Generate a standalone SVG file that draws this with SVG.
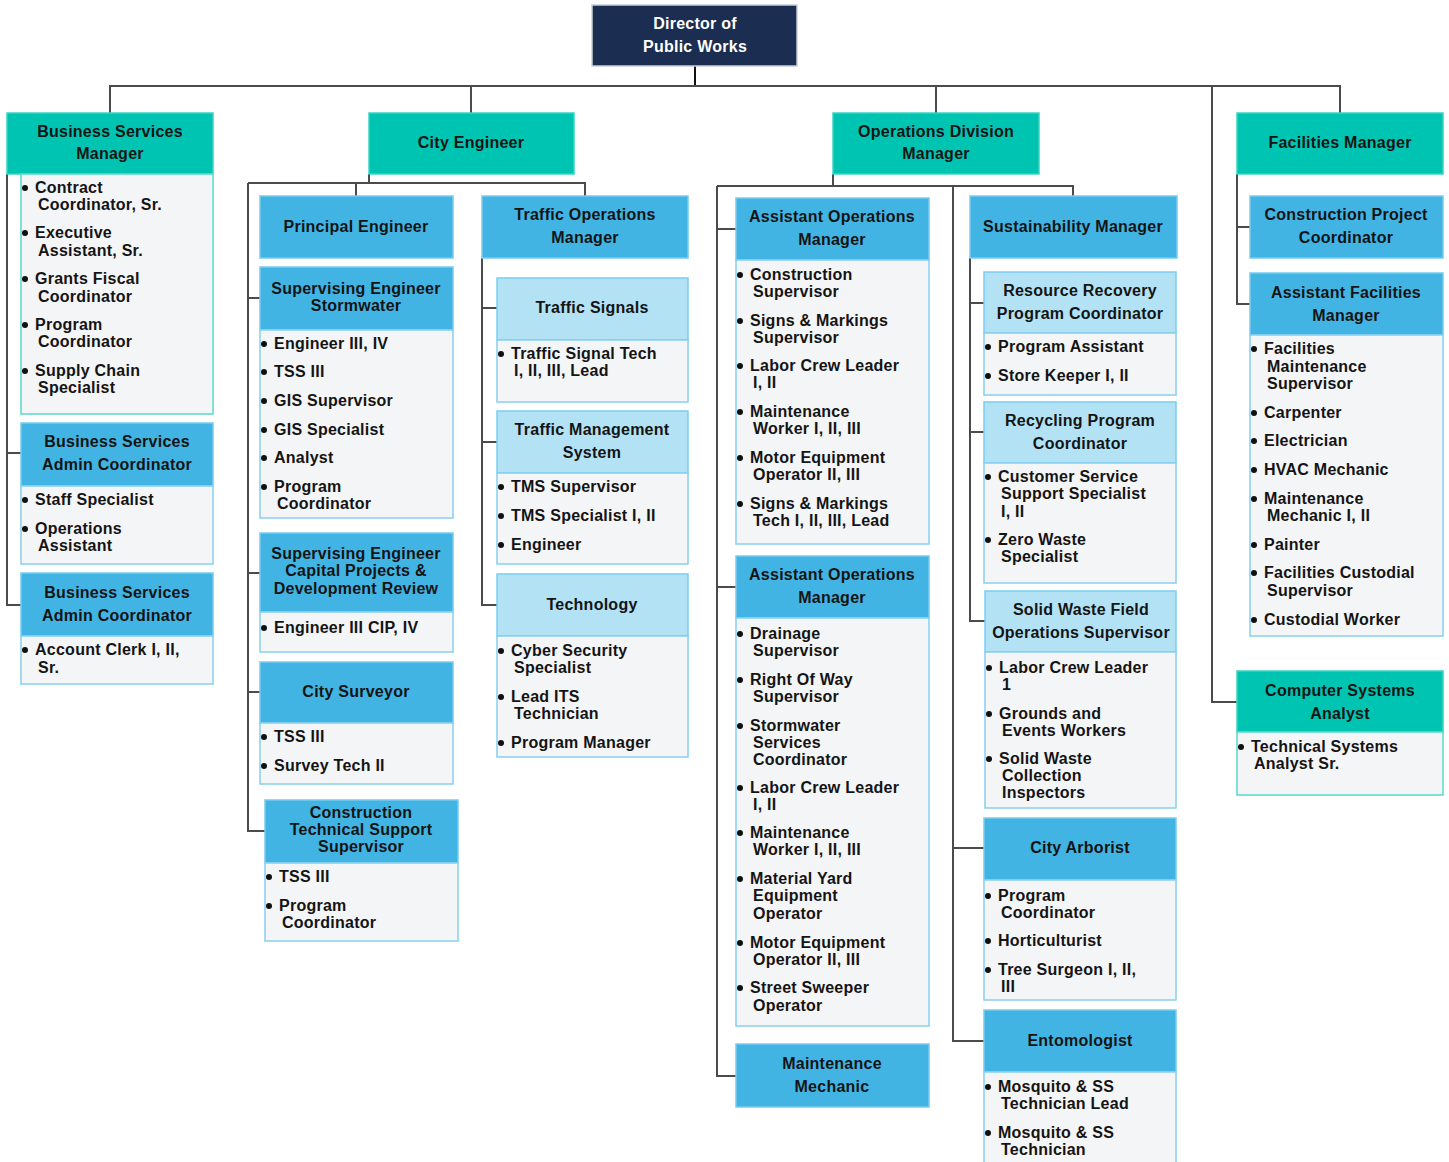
<svg xmlns="http://www.w3.org/2000/svg" width="1449" height="1162" viewBox="0 0 1449 1162">
<style>
text{font-family:"Liberation Sans",Arial,sans-serif;font-weight:bold;font-size:16px;letter-spacing:0.25px;fill:#141414}
.c{text-anchor:middle}
.w{fill:#ffffff}
.dir{fill:#1b2d50;stroke:#c9ced6;stroke-width:1.5}
.teal{fill:#00c4b2;stroke:#3bd2c2;stroke-width:1.5}
.blue{fill:#42b4e4;stroke:#78cbef;stroke-width:1.5}
.lblue{fill:#b3e2f4;stroke:#7ccdf0;stroke-width:1.5}
.list{fill:#f4f5f7;stroke:#86d0f0;stroke-width:1.5}
.listt{fill:#f4f5f7;stroke:#5ad8c8;stroke-width:1.5}
.b{fill:#111}
#connectors path{fill:none;stroke:#4b4b4b;stroke-width:2}
</style>
<rect width="1449" height="1162" fill="#ffffff"/>
<g id="connectors">
<path d="M695,66 V86" style="stroke:#111"/>
<path d="M110,113 V86 H1340 V113"/>
<path d="M471,86 V113 M936,86 V113"/>
<path d="M1212,86 V702 H1237"/>
<path d="M7,174 V605 H21 M7,453 H21"/>
<path d="M369,174 V183 M248,183 H585 V196 M356,183 V196 M248,183 V831 H265 M248,298 H260 M248,573 H260 M248,692 H260"/>
<path d="M482,258 V605 H497 M482,308 H497 M482,442 H497"/>
<path d="M833,174 V186 M717,186 H1073 V196 M717,186 V1076 H736 M717,229 H736 M717,587 H736 M953,186 V1041 H984 M953,848 H984"/>
<path d="M970,258 V621 H985 M970,303 H984 M970,432 H984"/>
<path d="M1237,174 V304 H1250 M1237,227 H1250"/>
</g>

<g id="director">
<rect class="dir" x="592" y="5" width="205" height="61"/>
<text class="c w" x="695" y="29">Director of</text>
<text class="c w" x="695" y="52">Public Works</text>
</g>

<g id="business-services-manager">
<rect class="teal" x="7" y="113" width="206" height="61"/>
<text class="c" x="110" y="137">Business Services</text>
<text class="c" x="110" y="159">Manager</text>
<rect class="listt" x="21" y="174" width="192" height="240"/>
<circle class="b" cx="25" cy="188" r="3"/><text x="35" y="193">Contract</text><text x="38" y="210">Coordinator, Sr.</text>
<circle class="b" cx="25" cy="233" r="3"/><text x="35" y="238">Executive</text><text x="38" y="256">Assistant, Sr.</text>
<circle class="b" cx="25" cy="279" r="3"/><text x="35" y="284">Grants Fiscal</text><text x="38" y="302">Coordinator</text>
<circle class="b" cx="25" cy="325" r="3"/><text x="35" y="330">Program</text><text x="38" y="347">Coordinator</text>
<circle class="b" cx="25" cy="371" r="3"/><text x="35" y="376">Supply Chain</text><text x="38" y="393">Specialist</text>
</g>

<g id="bs-admin-coordinator-1">
<rect class="blue" x="21" y="423" width="192" height="63"/>
<text class="c" x="117" y="447">Business Services</text>
<text class="c" x="117" y="470">Admin Coordinator</text>
<rect class="list" x="21" y="486" width="192" height="78"/>
<circle class="b" cx="25" cy="500" r="3"/><text x="35" y="505">Staff Specialist</text>
<circle class="b" cx="25" cy="529" r="3"/><text x="35" y="534">Operations</text><text x="38" y="551">Assistant</text>
</g>

<g id="bs-admin-coordinator-2">
<rect class="blue" x="21" y="573" width="192" height="63"/>
<text class="c" x="117" y="598">Business Services</text>
<text class="c" x="117" y="621">Admin Coordinator</text>
<rect class="list" x="21" y="636" width="192" height="48"/>
<circle class="b" cx="25" cy="650" r="3"/><text x="35" y="655">Account Clerk I, II,</text><text x="38" y="673">Sr.</text>
</g>

<g id="city-engineer">
<rect class="teal" x="369" y="113" width="205" height="61"/>
<text class="c" x="471" y="148">City Engineer</text>
</g>

<g id="principal-engineer">
<rect class="blue" x="260" y="196" width="193" height="62"/>
<text class="c" x="356" y="232">Principal Engineer</text>
</g>

<g id="se-stormwater">
<rect class="blue" x="260" y="267" width="193" height="63"/>
<text class="c" x="356" y="294">Supervising Engineer</text>
<text class="c" x="356" y="311">Stormwater</text>
<rect class="list" x="260" y="330" width="193" height="188"/>
<circle class="b" cx="264" cy="344" r="3"/><text x="274" y="349">Engineer III, IV</text>
<circle class="b" cx="264" cy="372" r="3"/><text x="274" y="377">TSS III</text>
<circle class="b" cx="264" cy="401" r="3"/><text x="274" y="406">GIS Supervisor</text>
<circle class="b" cx="264" cy="430" r="3"/><text x="274" y="435">GIS Specialist</text>
<circle class="b" cx="264" cy="458" r="3"/><text x="274" y="463">Analyst</text>
<circle class="b" cx="264" cy="487" r="3"/><text x="274" y="492">Program</text><text x="277" y="509">Coordinator</text>
</g>

<g id="se-capital-projects">
<rect class="blue" x="260" y="533" width="193" height="79"/>
<text class="c" x="356" y="559">Supervising Engineer</text>
<text class="c" x="356" y="576">Capital Projects &amp;</text>
<text class="c" x="356" y="594">Development Review</text>
<rect class="list" x="260" y="612" width="193" height="40"/>
<circle class="b" cx="264" cy="628" r="3"/><text x="274" y="633">Engineer III CIP, IV</text>
</g>

<g id="city-surveyor">
<rect class="blue" x="260" y="662" width="193" height="61"/>
<text class="c" x="356" y="697">City Surveyor</text>
<rect class="list" x="260" y="723" width="193" height="61"/>
<circle class="b" cx="264" cy="737" r="3"/><text x="274" y="742">TSS III</text>
<circle class="b" cx="264" cy="766" r="3"/><text x="274" y="771">Survey Tech II</text>
</g>

<g id="construction-tech-support">
<rect class="blue" x="265" y="800" width="193" height="63"/>
<text class="c" x="361" y="818">Construction</text>
<text class="c" x="361" y="835">Technical Support</text>
<text class="c" x="361" y="852">Supervisor</text>
<rect class="list" x="265" y="863" width="193" height="78"/>
<circle class="b" cx="269" cy="877" r="3"/><text x="279" y="882">TSS III</text>
<circle class="b" cx="269" cy="906" r="3"/><text x="279" y="911">Program</text><text x="282" y="928">Coordinator</text>
</g>

<g id="traffic-operations-manager">
<rect class="blue" x="482" y="196" width="206" height="62"/>
<text class="c" x="585" y="220">Traffic Operations</text>
<text class="c" x="585" y="243">Manager</text>
</g>

<g id="traffic-signals">
<rect class="lblue" x="497" y="278" width="191" height="62"/>
<text class="c" x="592" y="313">Traffic Signals</text>
<rect class="list" x="497" y="340" width="191" height="62"/>
<circle class="b" cx="501" cy="354" r="3"/><text x="511" y="359">Traffic Signal Tech</text><text x="514" y="376">I, II, III, Lead</text>
</g>

<g id="traffic-management-system">
<rect class="lblue" x="497" y="411" width="191" height="62"/>
<text class="c" x="592" y="435">Traffic Management</text>
<text class="c" x="592" y="458">System</text>
<rect class="list" x="497" y="473" width="191" height="91"/>
<circle class="b" cx="501" cy="487" r="3"/><text x="511" y="492">TMS Supervisor</text>
<circle class="b" cx="501" cy="516" r="3"/><text x="511" y="521">TMS Specialist I, II</text>
<circle class="b" cx="501" cy="545" r="3"/><text x="511" y="550">Engineer</text>
</g>

<g id="technology">
<rect class="lblue" x="497" y="574" width="191" height="62"/>
<text class="c" x="592" y="610">Technology</text>
<rect class="list" x="497" y="636" width="191" height="121"/>
<circle class="b" cx="501" cy="651" r="3"/><text x="511" y="656">Cyber Security</text><text x="514" y="673">Specialist</text>
<circle class="b" cx="501" cy="697" r="3"/><text x="511" y="702">Lead ITS</text><text x="514" y="719">Technician</text>
<circle class="b" cx="501" cy="743" r="3"/><text x="511" y="748">Program Manager</text>
</g>

<g id="operations-division-manager">
<rect class="teal" x="833" y="113" width="206" height="61"/>
<text class="c" x="936" y="137">Operations Division</text>
<text class="c" x="936" y="159">Manager</text>
</g>

<g id="assistant-operations-manager-1">
<rect class="blue" x="736" y="198" width="193" height="62"/>
<text class="c" x="832" y="222">Assistant Operations</text>
<text class="c" x="832" y="245">Manager</text>
<rect class="list" x="736" y="260" width="193" height="284"/>
<circle class="b" cx="740" cy="275" r="3"/><text x="750" y="280">Construction</text><text x="753" y="297">Supervisor</text>
<circle class="b" cx="740" cy="321" r="3"/><text x="750" y="326">Signs &amp; Markings</text><text x="753" y="343">Supervisor</text>
<circle class="b" cx="740" cy="366" r="3"/><text x="750" y="371">Labor Crew Leader</text><text x="753" y="388">I, II</text>
<circle class="b" cx="740" cy="412" r="3"/><text x="750" y="417">Maintenance</text><text x="753" y="434">Worker I, II, III</text>
<circle class="b" cx="740" cy="458" r="3"/><text x="750" y="463">Motor Equipment</text><text x="753" y="480">Operator II, III</text>
<circle class="b" cx="740" cy="504" r="3"/><text x="750" y="509">Signs &amp; Markings</text><text x="753" y="526">Tech I, II, III, Lead</text>
</g>

<g id="assistant-operations-manager-2">
<rect class="blue" x="736" y="556" width="193" height="62"/>
<text class="c" x="832" y="580">Assistant Operations</text>
<text class="c" x="832" y="603">Manager</text>
<rect class="list" x="736" y="618" width="193" height="408"/>
<circle class="b" cx="740" cy="634" r="3"/><text x="750" y="639">Drainage</text><text x="753" y="656">Supervisor</text>
<circle class="b" cx="740" cy="680" r="3"/><text x="750" y="685">Right Of Way</text><text x="753" y="702">Supervisor</text>
<circle class="b" cx="740" cy="726" r="3"/><text x="750" y="731">Stormwater</text><text x="753" y="748">Services</text><text x="753" y="765">Coordinator</text>
<circle class="b" cx="740" cy="788" r="3"/><text x="750" y="793">Labor Crew Leader</text><text x="753" y="810">I, II</text>
<circle class="b" cx="740" cy="833" r="3"/><text x="750" y="838">Maintenance</text><text x="753" y="855">Worker I, II, III</text>
<circle class="b" cx="740" cy="879" r="3"/><text x="750" y="884">Material Yard</text><text x="753" y="901">Equipment</text><text x="753" y="919">Operator</text>
<circle class="b" cx="740" cy="943" r="3"/><text x="750" y="948">Motor Equipment</text><text x="753" y="965">Operator II, III</text>
<circle class="b" cx="740" cy="988" r="3"/><text x="750" y="993">Street Sweeper</text><text x="753" y="1011">Operator</text>
</g>

<g id="maintenance-mechanic">
<rect class="blue" x="736" y="1044" width="193" height="63"/>
<text class="c" x="832" y="1069">Maintenance</text>
<text class="c" x="832" y="1092">Mechanic</text>
</g>

<g id="sustainability-manager">
<rect class="blue" x="970" y="196" width="207" height="62"/>
<text class="c" x="1073" y="232">Sustainability Manager</text>
</g>

<g id="resource-recovery">
<rect class="lblue" x="984" y="272" width="192" height="61"/>
<text class="c" x="1080" y="296">Resource Recovery</text>
<text class="c" x="1080" y="319">Program Coordinator</text>
<rect class="list" x="984" y="333" width="192" height="62"/>
<circle class="b" cx="988" cy="347" r="3"/><text x="998" y="352">Program Assistant</text>
<circle class="b" cx="988" cy="376" r="3"/><text x="998" y="381">Store Keeper I, II</text>
</g>

<g id="recycling-program">
<rect class="lblue" x="984" y="402" width="192" height="61"/>
<text class="c" x="1080" y="426">Recycling Program</text>
<text class="c" x="1080" y="449">Coordinator</text>
<rect class="list" x="984" y="463" width="192" height="120"/>
<circle class="b" cx="988" cy="477" r="3"/><text x="998" y="482">Customer Service</text><text x="1001" y="499">Support Specialist</text><text x="1001" y="517">I, II</text>
<circle class="b" cx="988" cy="540" r="3"/><text x="998" y="545">Zero Waste</text><text x="1001" y="562">Specialist</text>
</g>

<g id="solid-waste-field">
<rect class="lblue" x="985" y="591" width="191" height="61"/>
<text class="c" x="1081" y="615">Solid Waste Field</text>
<text class="c" x="1081" y="638">Operations Supervisor</text>
<rect class="list" x="985" y="652" width="191" height="156"/>
<circle class="b" cx="989" cy="668" r="3"/><text x="999" y="673">Labor Crew Leader</text><text x="1002" y="690">1</text>
<circle class="b" cx="989" cy="714" r="3"/><text x="999" y="719">Grounds and</text><text x="1002" y="736">Events Workers</text>
<circle class="b" cx="989" cy="759" r="3"/><text x="999" y="764">Solid Waste</text><text x="1002" y="781">Collection</text><text x="1002" y="798">Inspectors</text>
</g>

<g id="city-arborist">
<rect class="blue" x="984" y="818" width="192" height="62"/>
<text class="c" x="1080" y="853">City Arborist</text>
<rect class="list" x="984" y="880" width="192" height="120"/>
<circle class="b" cx="988" cy="896" r="3"/><text x="998" y="901">Program</text><text x="1001" y="918">Coordinator</text>
<circle class="b" cx="988" cy="941" r="3"/><text x="998" y="946">Horticulturist</text>
<circle class="b" cx="988" cy="970" r="3"/><text x="998" y="975">Tree Surgeon I, II,</text><text x="1001" y="992">III</text>
</g>

<g id="entomologist">
<rect class="blue" x="984" y="1010" width="192" height="62"/>
<text class="c" x="1080" y="1046">Entomologist</text>
<rect class="list" x="984" y="1072" width="192" height="96"/>
<circle class="b" cx="988" cy="1087" r="3"/><text x="998" y="1092">Mosquito &amp; SS</text><text x="1001" y="1109">Technician Lead</text>
<circle class="b" cx="988" cy="1133" r="3"/><text x="998" y="1138">Mosquito &amp; SS</text><text x="1001" y="1155">Technician</text>
</g>

<g id="facilities-manager">
<rect class="teal" x="1237" y="113" width="206" height="61"/>
<text class="c" x="1340" y="148">Facilities Manager</text>
</g>

<g id="construction-project-coordinator">
<rect class="blue" x="1250" y="196" width="193" height="62"/>
<text class="c" x="1346" y="220">Construction Project</text>
<text class="c" x="1346" y="243">Coordinator</text>
</g>

<g id="assistant-facilities-manager">
<rect class="blue" x="1250" y="273" width="193" height="62"/>
<text class="c" x="1346" y="298">Assistant Facilities</text>
<text class="c" x="1346" y="321">Manager</text>
<rect class="list" x="1250" y="335" width="193" height="301"/>
<circle class="b" cx="1254" cy="349" r="3"/><text x="1264" y="354">Facilities</text><text x="1267" y="372">Maintenance</text><text x="1267" y="389">Supervisor</text>
<circle class="b" cx="1254" cy="413" r="3"/><text x="1264" y="418">Carpenter</text>
<circle class="b" cx="1254" cy="441" r="3"/><text x="1264" y="446">Electrician</text>
<circle class="b" cx="1254" cy="470" r="3"/><text x="1264" y="475">HVAC Mechanic</text>
<circle class="b" cx="1254" cy="499" r="3"/><text x="1264" y="504">Maintenance</text><text x="1267" y="521">Mechanic I, II</text>
<circle class="b" cx="1254" cy="545" r="3"/><text x="1264" y="550">Painter</text>
<circle class="b" cx="1254" cy="573" r="3"/><text x="1264" y="578">Facilities Custodial</text><text x="1267" y="596">Supervisor</text>
<circle class="b" cx="1254" cy="620" r="3"/><text x="1264" y="625">Custodial Worker</text>
</g>

<g id="computer-systems-analyst">
<rect class="teal" x="1237" y="671" width="206" height="61"/>
<text class="c" x="1340" y="696">Computer Systems</text>
<text class="c" x="1340" y="719">Analyst</text>
<rect class="listt" x="1237" y="732" width="206" height="63"/>
<circle class="b" cx="1241" cy="747" r="3"/><text x="1251" y="752">Technical Systems</text><text x="1254" y="769">Analyst Sr.</text>
</g>
</svg>
